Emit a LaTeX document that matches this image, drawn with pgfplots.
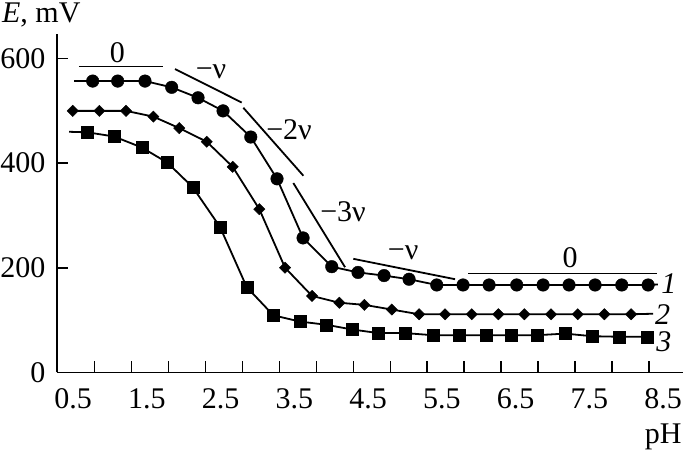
\documentclass[border=0pt]{standalone}
\usepackage{fontspec}
\setmainfont{Liberation Serif}
\usepackage{pgfplots}
\pgfplotsset{compat=1.18}
\newcommand\fs{\fontsize{30}{34}\selectfont}
\begin{document}
\begin{tikzpicture}[font=\fs]
\path[use as bounding box] (0,0) rectangle (685pt,451pt);
\begin{axis}[
  at={(57pt,78.7pt)}, anchor=south west,
  scale only axis, width=626pt, height=338.3pt,
  xmin=0.283, xmax=8.77, ymin=0, ymax=647,
  clip=false,
  axis lines=left,
  axis line style={-, line width=1.6pt},
  tick align=inside,
  tick style={line width=1.6pt, black},
  major tick length=11pt,
  /pgf/number format/assume math mode=true,
  xtick={0.794,1.295,1.796,2.297,2.798,3.299,3.800,4.301,4.802,5.303,5.804,6.305,6.806,7.307,7.808,8.309},
  xticklabels={},
  extra x ticks={0.5,1.5,2.5,3.5,4.5,5.5,6.5,7.5,8.5},
  extra x tick labels={0.5,1.5,2.5,3.5,4.5,5.5,6.5,7.5,8.5},
  extra x tick style={major tick length=0pt},
  ytick={0,200,400,600},
  yticklabels={0,200,400,600},
  every tick label/.append style={font=\fs},
  x tick label style={anchor=north, inner sep=0pt, yshift=-16pt},
  y tick label style={anchor=east, inner sep=0pt, xshift=-11.5pt},
]
% curve 1 (circles)
\addplot[line width=1.8pt, black, mark=none] coordinates {
  (0.514,557) (0.767,557) (1.106,557) (1.476,557) (1.838,545) (2.195,525)
  (2.534,500) (2.910,450) (3.266,370) (3.619,257) (4.008,202) (4.364,191)
  (4.717,185) (5.056,178) (5.432,167) (5.788,167) (6.141,167) (6.516,167)
  (6.873,167) (7.225,167) (7.578,167) (7.940,167) (8.297,167) (8.43,168)};
\addplot[only marks, black, mark=*, mark size=6.3pt] coordinates {
  (0.767,557) (1.106,557) (1.476,557) (1.838,545) (2.195,525)
  (2.534,500) (2.910,450) (3.266,370) (3.619,257) (4.008,202) (4.364,191)
  (4.717,185) (5.056,178) (5.432,167) (5.788,167) (6.141,167) (6.516,167)
  (6.873,167) (7.225,167) (7.578,167) (7.940,167) (8.297,167)};
% curve 2 (diamonds)
\addplot[line width=1.8pt, black, mark=none] coordinates {
  (0.496,500) (0.857,500) (1.219,500) (1.589,489) (1.941,467) (2.313,441)
  (2.665,393) (3.026,312) (3.375,200) (3.741,146) (4.111,133) (4.450,129)
  (4.822,120) (5.192,111) (5.544,111) (5.906,111) (6.267,111) (6.619,111)
  (6.981,111) (7.343,111) (7.704,111) (8.066,111) (8.364,112)};
\addplot[only marks, black, mark=square*, mark options={rotate=45}, mark size=4pt] coordinates {
  (0.496,500) (0.857,500) (1.219,500) (1.589,489) (1.941,467) (2.313,441)
  (2.665,393) (3.026,312) (3.375,200) (3.741,146) (4.111,133) (4.450,129)
  (4.822,120) (5.192,111) (5.544,111) (5.906,111) (6.267,111) (6.619,111)
  (6.981,111) (7.343,111) (7.704,111) (8.066,111)};
% curve 3 (squares)
\addplot[line width=1.8pt, black, mark=none] coordinates {
  (0.446,460) (0.694,459) (1.056,451) (1.432,430) (1.779,401) (2.123,354)
  (2.493,278) (2.855,163) (3.216,109) (3.578,97) (3.931,91) (4.279,82)
  (4.640,75) (5.002,75) (5.377,71) (5.738,71) (6.100,71) (6.435,71)
  (6.796,71) (7.171,74) (7.541,69) (7.903,68) (8.279,68)};
\addplot[only marks, black, mark=square*, mark size=6pt] coordinates {
  (0.694,459) (1.056,451) (1.432,430) (1.779,401) (2.123,354)
  (2.493,278) (2.855,163) (3.216,109) (3.578,97) (3.931,91) (4.279,82)
  (4.640,75) (5.002,75) (5.377,71) (5.738,71) (6.100,71) (6.435,71)
  (6.796,71) (7.171,74) (7.541,69) (7.903,68) (8.279,68)};
% slope segments
\draw[line width=1.8pt] (axis cs:0.581,585) -- (axis cs:1.716,585);
\draw[line width=1.8pt] (axis cs:1.883,580) -- (axis cs:2.787,516);
\draw[line width=1.8pt] (axis cs:2.809,506) -- (axis cs:3.623,376);
\draw[line width=1.8pt] (axis cs:3.487,362) -- (axis cs:4.188,201);
\draw[line width=1.8pt] (axis cs:4.301,217) -- (axis cs:5.680,178);
\draw[line width=1.8pt] (axis cs:5.860,189) -- (axis cs:8.415,189);
\node[inner sep=0] at (axis cs:1.103,611) {0};
\node[inner sep=0] at (axis cs:2.371,575) {−ν};
\node[inner sep=0] at (axis cs:3.429,463) {−2ν};
\node[inner sep=0] at (axis cs:4.161,307) {−3ν};
\node[inner sep=0] at (axis cs:4.975,228) {−ν};
\node[inner sep=0] at (axis cs:7.239,220) {0};
% curve numbers
\node[inner sep=0, anchor=west] at (axis cs:8.473,170) {\textit{1}};
\node[inner sep=0, anchor=west] at (axis cs:8.391,110) {\textit{2}};
\node[inner sep=0, anchor=west] at (axis cs:8.405,58) {\textit{3}};
% axis labels
\node[inner sep=0, anchor=west] at (axis description cs:-0.0879,1.056) {\textit{E}, mV};
\node[inner sep=0, anchor=east] at (axis description cs:0.998,-0.190) {pH};
\end{axis}
\end{tikzpicture}
\end{document}
